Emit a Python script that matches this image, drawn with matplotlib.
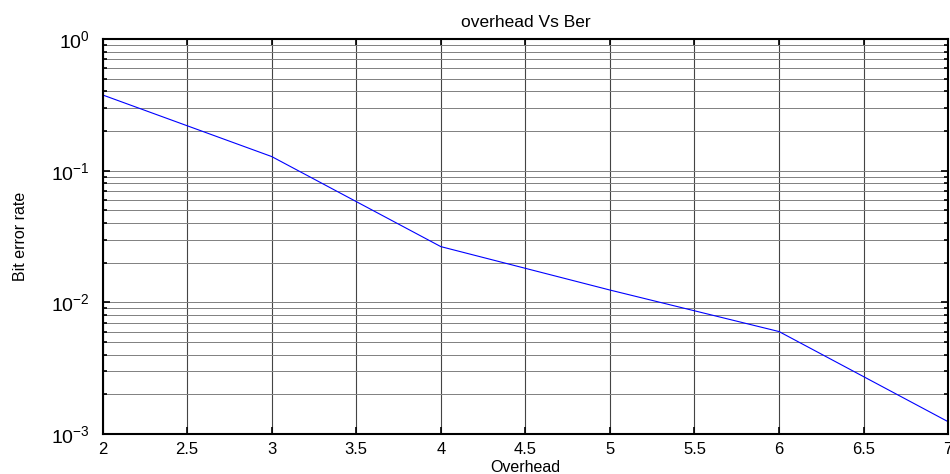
import matplotlib.pyplot as plt
from matplotlib.ticker import LogLocator, NullFormatter, MultipleLocator, FuncFormatter

plt.rcParams['font.family'] = ['Liberation Sans', 'DejaVu Sans']
plt.rcParams['mathtext.fontset'] = 'custom'
plt.rcParams['mathtext.rm'] = 'Liberation Sans'
plt.rcParams['mathtext.it'] = 'Liberation Sans'

# overhead values and measured bit error rate
overhead = [2, 3, 4, 5, 6, 7]
ber = [0.376, 0.128, 0.0265, 0.0124, 0.0060, 0.00124]

fig = plt.figure(figsize=(9.5, 4.74), dpi=100)
ax = fig.add_axes([0.108, 0.0844, 0.890, 0.8333])

ax.semilogy(overhead, ber, color='#0000ff', lw=0.8)

ax.set_xlim(2, 7)
ax.set_ylim(1e-3, 1)
ax.xaxis.set_major_locator(MultipleLocator(0.5))
ax.xaxis.set_major_formatter(FuncFormatter(lambda v, p: '%g' % v))
ax.yaxis.set_major_locator(LogLocator(base=10))
ax.yaxis.set_minor_locator(LogLocator(base=10, subs=range(2, 10)))
ax.yaxis.set_minor_formatter(NullFormatter())

ax.grid(True, which='major', axis='x', color='#444444', lw=0.8)
ax.grid(True, which='both', axis='y', color='#808080', lw=0.7)

ax.tick_params(which='both', direction='in', top=True, right=True, colors='black')
ax.tick_params(axis='x', labelsize=12, pad=6)
ax.tick_params(axis='y', labelsize=14, pad=9)
ax.tick_params(which='major', length=5, width=1.2)
ax.tick_params(which='minor', length=3, width=1.2)
for s in ax.spines.values():
    s.set_linewidth(1.5)

ax.set_title('overhead Vs Ber', fontsize=12.5, pad=9)
ax.set_xlabel('Overhead', fontsize=11.5)
ax.xaxis.set_label_coords(0.5, -0.065)
ax.set_ylabel('Bit error rate', fontsize=11.5, labelpad=17)

fig.savefig('out.png', dpi=100)
